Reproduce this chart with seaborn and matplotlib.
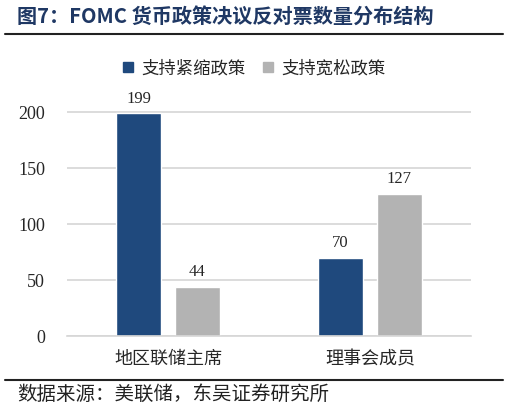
import numpy as np
import pandas as pd
import matplotlib
matplotlib.use('Agg')
import matplotlib.pyplot as plt
import seaborn as sns

# data
groups = ['地区联储主席', '理事会成员']
series = ['支持紧缩政策', '支持宽松政策']
tight_votes = [199, 70]
loose_votes = [44, 127]
colors = ['#1F497D', '#B3B3B3']

df = pd.DataFrame({
    'group': groups * 2,
    'series': [series[0]] * 2 + [series[1]] * 2,
    'votes': tight_votes + loose_votes,
})

sns.set_style('white')
plt.rcParams['font.family'] = ['Noto Sans CJK SC', 'DejaVu Sans']

fig = plt.figure(figsize=(5.09, 4.13), dpi=100)
ax = fig.add_axes([0.132, 0.1857, 0.793, 0.610])

sns.barplot(data=df, x='group', y='votes', hue='series', hue_order=series,
            palette=colors, width=0.58, gap=0.23, saturation=1,
            legend=False, ax=ax)

for cont in ax.containers:
    ax.bar_label(cont, padding=5, fontsize=12, family='Liberation Serif')

ax.set_ylim(0, 225)
ax.set_xlim(-0.5, 1.5)
ax.set_yticks([0, 50, 100, 150, 200])
ax.set_axisbelow(True)
ax.grid(axis='y', color='#D6D6D6', linewidth=1.2)
ax.set_xlabel('')
ax.set_ylabel('')
for lab in ax.get_yticklabels():
    lab.set_family('Liberation Serif')
    lab.set_fontsize(13)
ax.tick_params(axis='x', labelsize=13, length=0, pad=10)
ax.tick_params(axis='y', length=0, pad=16)
for s in ['top', 'right', 'left']:
    ax.spines[s].set_visible(False)
ax.spines['bottom'].set_color('#D6D6D6')
ax.spines['bottom'].set_linewidth(1.2)

# legend
handles = [plt.Rectangle((0, 0), 1, 1, color=c) for c in colors]
fig.legend(handles, series, loc='center', bbox_to_anchor=(0.5, 0.835), ncol=2,
           frameon=False, fontsize=12.5, handlelength=0.55, handleheight=0.55,
           handletextpad=0.5, columnspacing=1.0)

# title and source
fig.text(0.033, 0.958, '图7：FOMC 货币政策决议反对票数量分布结构', fontsize=14.5,
         fontweight='bold', color='#1F3864', va='center', ha='left')
fig.add_artist(plt.Line2D([0.01, 0.988], [0.918, 0.918], color='#222222', lw=1.5))
fig.add_artist(plt.Line2D([0.01, 0.988], [0.08, 0.08], color='#222222', lw=1.5))
fig.text(0.033, 0.045, '数据来源：美联储，东吴证券研究所', fontsize=14,
         color='#222222', va='center', ha='left')

fig.savefig('out.png', dpi=100)
